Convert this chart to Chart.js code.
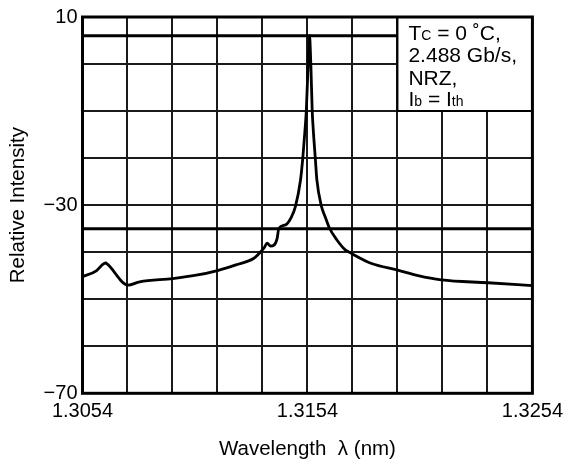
<!DOCTYPE html>
<html><head><meta charset="utf-8">
<script src="https://cdn.jsdelivr.net/npm/chart.js@4/dist/chart.umd.min.js"></script>
<style>html,body{margin:0;padding:0;background:#fff}#wrap{width:569px;height:469px}</style>
</head><body><div id="wrap"><canvas id="c" width="569" height="469"></canvas></div>
<script>
// ---- data ----
const wavelength = [
  1.30540, 1.30603, 1.30630, 1.30642, 1.30652, 1.30742, 1.30794, 1.30941, 1.31045, 1.31140,
  1.31222, 1.31302, 1.31325, 1.31347, 1.31361, 1.31376, 1.31391, 1.31405, 1.31413, 1.31443,
  1.31469, 1.31487, 1.31509, 1.31519, 1.31529, 1.31535, 1.31543, 1.31549, 1.31555, 1.31561,
  1.31566, 1.31575, 1.31582, 1.31602, 1.31619, 1.31637, 1.31671, 1.31708, 1.31733, 1.31825,
  1.31941, 1.32032, 1.32135, 1.32343, 1.32540
];
const intensity = [
  -45.2, -43.9, -42.6, -42.3, -42.6, -47.0, -46.3, -45.6, -44.9, -43.9,
  -42.7, -41.3, -40.3, -39.1, -38.1, -38.7, -38.5, -37.1, -34.9, -34.2,
  -32.5, -30.2, -24.7, -20.1, -14.1, -9.8, 0.0, 6.1, 0.0, -9.8,
  -14.1, -20.1, -24.7, -30.2, -32.5, -34.8, -37.4, -39.5, -40.2, -42.4,
  -43.8, -45.0, -45.9, -46.5, -47.1
];
const peakLevel = [6, 6];
const peakLevelRange = [1.3054, 1.3194];
const sideLevel = [-35, -35];
const sideLevelRange = [1.3054, 1.3254];
const xTickValues = [1.3054, 1.3074, 1.3094, 1.3114, 1.3134, 1.3154, 1.3174, 1.3194, 1.3214, 1.3234, 1.3254];
const xTickLabels = ['1.3054', '', '', '', '', '1.3154', '', '', '', '', '1.3254'];
const yTickValues = [-70, -60, -50, -40, -30, -20, -10, 0, 10];
const yTickLabels = ['\u221270', '', '', '', '\u221230', '', '', '', '10'];
const noteLines = [
  [['T', 0], ['C', 1], [' = 0 \u02DAC,', 0]],
  [['2.488 Gb/s,', 0]],
  [['NRZ,', 0]],
  [['I', 0], ['b', 1], [' = I', 0], ['th', 1]]
];
const xTitle = 'Wavelength  \u03BB (nm)';
const yTitle = 'Relative Intensity';

// ---- chart ----
const FONT = '"Liberation Sans", Arial, sans-serif';
const boxLeft = 1.3194, boxBottom = -10;

const framePlugin = {
  id: 'frame',
  afterDatasetsDraw(chart) {
    const { ctx, chartArea: a, scales: { x, y } } = chart;
    const bx = x.getPixelForValue(boxLeft), by = y.getPixelForValue(boxBottom);
    ctx.save();
    ctx.fillStyle = '#fff';
    ctx.fillRect(bx, a.top, a.right - bx, by - a.top);
    ctx.strokeStyle = '#000';
    ctx.lineWidth = 2;
    ctx.beginPath();
    ctx.moveTo(bx, a.top); ctx.lineTo(bx, by); ctx.lineTo(a.right, by);
    ctx.stroke();
    ctx.lineWidth = 3;
    ctx.strokeRect(a.left, a.top, a.right - a.left, a.bottom - a.top);
    // note text
    ctx.fillStyle = '#000';
    ctx.textBaseline = 'alphabetic';
    ctx.textAlign = 'left';
    const baselines = [40, 62, 85, 106];
    noteLines.forEach((segs, i) => {
      let tx = bx + 11;
      segs.forEach(([t, small]) => {
        ctx.font = (small ? '14px ' : '21px ') + FONT;
        ctx.fillText(t, tx, baselines[i]);
        tx += ctx.measureText(t).width;
      });
    });
    ctx.restore();
  }
};

new Chart(document.getElementById('c'), {
  type: 'scatter',
  data: {
    datasets: [
      {
        data: wavelength.map((w, i) => ({ x: w, y: intensity[i] })),
        showLine: true, borderColor: '#000', borderWidth: 2.8, pointRadius: 0,
        cubicInterpolationMode: 'monotone'
      },
      {
        data: peakLevelRange.map((w, i) => ({ x: w, y: peakLevel[i] })),
        showLine: true, borderColor: '#000', borderWidth: 3, pointRadius: 0
      },
      {
        data: sideLevelRange.map((w, i) => ({ x: w, y: sideLevel[i] })),
        showLine: true, borderColor: '#000', borderWidth: 3, pointRadius: 0
      }
    ]
  },
  options: {
    responsive: false,
    animation: false,
    devicePixelRatio: 1,
    layout: { padding: { top: 17, right: 34, left: 0, bottom: 0 } },
    plugins: { legend: { display: false }, tooltip: { enabled: false } },
    scales: {
      x: {
        type: 'linear', min: 1.3054, max: 1.3254,
        afterBuildTicks: s => { s.ticks = xTickValues.map(v => ({ value: v })); },
        afterFit: s => { s.height = 75.7; },
        grid: { color: '#1a1a1a', lineWidth: 2, drawTicks: false },
        border: { display: false },
        ticks: {
          autoSkip: false, maxRotation: 0, padding: 6, color: '#000',
          font: { family: FONT, size: 20 },
          callback: (v, i) => xTickLabels[i]
        },
        title: { display: true, text: xTitle, color: '#000', font: { family: FONT, size: 20.5 }, padding: { top: 0, bottom: 7 } }
      },
      y: {
        type: 'linear', min: -70, max: 10,
        afterBuildTicks: s => { s.ticks = yTickValues.map(v => ({ value: v })); },
        afterFit: s => { s.width = 82.5; },
        grid: { color: '#1a1a1a', lineWidth: 2, drawTicks: false },
        border: { display: false },
        ticks: {
          autoSkip: false, padding: 5, color: '#000',
          font: { family: FONT, size: 20 },
          callback: (v, i) => yTickLabels[i]
        },
        title: { display: true, text: yTitle, color: '#000', font: { family: FONT, size: 20.5 }, padding: { top: 6, bottom: 0 } }
      }
    }
  },
  plugins: [framePlugin]
});
</script>
</body></html>
